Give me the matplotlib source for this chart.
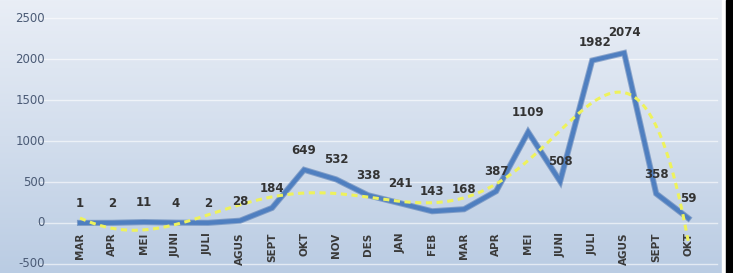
import matplotlib.pyplot as plt
import numpy as np
from matplotlib.colors import LinearSegmentedColormap

months = ["MAR", "APR", "MEI", "JUNI", "JULI", "AGUS", "SEPT", "OKT", "NOV", "DES",
          "JAN", "FEB", "MAR", "APR", "MEI", "JUNI", "JULI", "AGUS", "SEPT", "OKT"]
cases = [1, 2, 11, 4, 2, 28, 184, 649, 532, 338,
         241, 143, 168, 387, 1109, 508, 1982, 2074, 358, 59]
yticks = [-500, 0, 500, 1000, 1500, 2000, 2500]

# label nudges (points) for the two crowded peaks
nudge = {16: (2, 13), 17: (0, 15)}

fig = plt.figure(figsize=(7.33, 2.73), dpi=100)

# gradient background
bg = fig.add_axes([0, 0, 1, 1])
cmap = LinearSegmentedColormap.from_list("bg", ["#e9eef6", "#d3deed", "#bacce3"])
bg.imshow(np.linspace(0, 1, 256).reshape(-1, 1), aspect="auto", cmap=cmap,
          extent=[0, 1, 0, 1], origin="upper")
bg.set_xlim(0, 1)
bg.set_ylim(0, 1)
bg.axis("off")
# frame on the right
bg.axvspan(0.985, 0.991, color="white")
bg.axvspan(0.991, 1.0, color="black")

ax = fig.add_axes([0, 0, 1, 1])
ax.patch.set_alpha(0)
ax.set_xlim(-2.5, 20.4)
ax.set_ylim(-610, 2720)
ax.axis("off")

x = np.arange(len(cases))

for t in yticks:
    ax.plot([-1.3, 19.9], [t, t], color="white", lw=1, alpha=0.6, zorder=1)
    ax.text(-1.1, t, str(t), ha="right", va="center", fontsize=8.5,
            color="#4a5a75", family="DejaVu Sans")

# trendline (poly order 6, like the spreadsheet)
coef = np.polyfit(x, cases, 6)
xs = np.linspace(0, 19, 300)
ax.plot(xs, np.polyval(coef, xs), color="#eef25c", lw=2.2, ls=(0, (2, 1.5)), zorder=4)

ax.plot(x, cases, color="#3a66a8", lw=4.4, alpha=0.5, zorder=2, solid_joinstyle="miter")
ax.plot(x, cases, color="#4f7fc0", lw=3, zorder=3, solid_joinstyle="miter")

for i, v in enumerate(cases):
    dx, dy = nudge.get(i, (0, 14))
    ax.annotate(str(v), (i, v), xytext=(dx, dy), textcoords="offset points",
                ha="center", va="center", fontsize=8.5, fontweight="bold",
                color="#333333", zorder=5)

for i, m in enumerate(months):
    ax.text(i, -115, m, rotation=90, ha="center", va="top", fontsize=7.5,
            fontweight="bold", color="#3a3a3a")

fig.savefig("out.png", dpi=100)
